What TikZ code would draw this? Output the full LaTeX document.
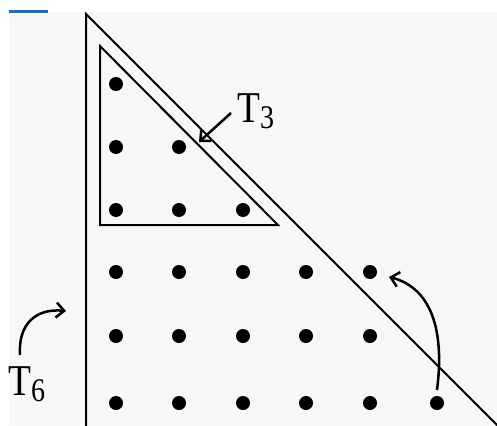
\documentclass[tikz,border=0pt]{standalone}
\usepackage{fontspec}
\setmainfont{Liberation Serif}
\usetikzlibrary{arrows.meta}
\definecolor{cPaper}{RGB}{247,247,247}
\definecolor{cBlue}{RGB}{25,110,200}
\tikzset{
	edge/.style={line width=2pt, black},
	dot/.style={circle, fill=black, inner sep=0pt, minimum size=14pt},
	tlabel/.style={font=\fontsize{44}{48}\selectfont, inner sep=0pt, xscale=0.85},
	pointer/.style={-{Straight Barb[length=8pt, width=15pt]}, line width=2.5pt},
}
\newcommand{\trilabel}[1]{T\raisebox{-6pt}{\fontsize{33}{33}\selectfont #1}}
\begin{document}
\begin{tikzpicture}[x=1pt, y=-1pt]
	\useasboundingbox (0,0) rectangle (497,425);
	\fill[cPaper] (9,12) rectangle (497,425);
	\draw[cBlue, line width=3pt] (9,12) -- (48,12);
	% big triangle T6 and small triangle T3
	\coordinate (bigTop) at (86,14);
	\coordinate (smallTop) at (100,46);
	\draw[edge] (500,428) -- (bigTop) -- (86,428);
	\draw[edge] (smallTop) -- (100,225) -- (278,225) -- cycle;
	% dots, row by row
	\foreach \y/\n [count=\r] in {84/1,147/2,210/3,272/5,336/5,403/6} {
		\foreach \x [count=\c] in {116,179,243,306,370,437} {
			\ifnum\c>\n\else \node[dot] (d\r\c) at (\x,\y) {}; \fi
		}
	}
	\node[tlabel, anchor=base west] (labelT3) at (237,122) {\trilabel{3}};
	\node[tlabel, anchor=base west] (labelT6) at (8,395) {\trilabel{6}};
	\coordinate (t3tail) at (231,113);
	\coordinate (t3tip) at (199,142);
	\coordinate (t6tail) at (20,355);
	\coordinate (t6tip) at (66,311);
	\draw[pointer] (t3tail) -- (t3tip);
	\draw[pointer] (t6tail) .. controls (18,325) and (35,308) .. (t6tip);
	\draw[pointer] ([yshift=13pt]d66.center) .. controls (446,320) and (425,286) .. ([shift={(19pt,-5pt)}]d45.center);
\end{tikzpicture}
\end{document}
